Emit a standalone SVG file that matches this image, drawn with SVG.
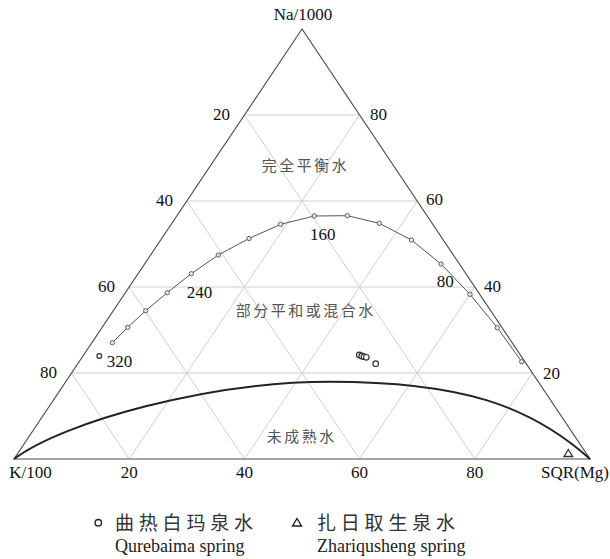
<svg xmlns="http://www.w3.org/2000/svg" width="610" height="559" viewBox="0 0 610 559">
<style>
.num{font-family:"Liberation Serif","Times New Roman",serif;font-size:17px;fill:#111}
.zone{font-family:"Noto Sans CJK SC","Noto Sans",sans-serif;font-size:15px;fill:#555;letter-spacing:2.5px}
.leg{font-family:"Noto Sans CJK SC","Noto Sans",sans-serif;font-size:19px;fill:#333;letter-spacing:4.8px}
.legen{font-family:"Liberation Serif","Times New Roman",serif;font-size:18px;fill:#222}
.grid{fill:none;stroke:#c9c9c9;stroke-width:0.9}
.frame{fill:none;stroke:#4a4a4a;stroke-width:1.1}
.pt{fill:#e4e4e4;stroke:#555;stroke-width:0.9}
.smp{fill:#fff;stroke:#333;stroke-width:1.2}
</style>
<rect width="610" height="559" fill="#fff"/>
<g id="grid">
<path class="grid" d="M71.6,373H532.4M129.2,287H474.8M186.8,201H417.2M244.4,115H359.6M129.2,459L359.6,115M244.4,459L417.2,201M359.6,459L474.8,287M474.8,459L532.4,373M129.2,459L71.6,373M244.4,459L129.2,287M359.6,459L186.8,201M474.8,459L244.4,115"/>
</g>
<g id="frame">
<path class="frame" d="M302,29L14,459L590,459Z"/>
</g>
<g id="axis-labels">
<text class="num" x="303" y="20" text-anchor="middle">Na/1000</text>
<text class="num" x="230" y="120" text-anchor="end">20</text>
<text class="num" x="173" y="206" text-anchor="end">40</text>
<text class="num" x="115" y="292" text-anchor="end">60</text>
<text class="num" x="57" y="378" text-anchor="end">80</text>
<text class="num" x="370" y="120">80</text>
<text class="num" x="426" y="205">60</text>
<text class="num" x="484" y="292">40</text>
<text class="num" x="543" y="379">20</text>
<text class="num" x="30.5" y="478" text-anchor="middle">K/100</text>
<text class="num" x="129.2" y="478" text-anchor="middle">20</text>
<text class="num" x="244.4" y="478" text-anchor="middle">40</text>
<text class="num" x="359.6" y="478" text-anchor="middle">60</text>
<text class="num" x="474.8" y="478" text-anchor="middle">80</text>
<text class="num" x="609" y="478" text-anchor="end">SQR(Mg)</text>
</g>
<g id="zones">
<text class="zone" x="261.7" y="171">完全平衡水</text>
<text class="zone" x="235.8" y="316">部分平和或混合水</text>
<text class="zone" x="266.7" y="441.5">未成熟水</text>
</g>
<g id="connectors">
<path id="immature-line" d="M14,459C64,421.5 210,381.7 330,381.7C460,381.7 530,405 590,459" fill="none" stroke="#222" stroke-width="2"/>
<polyline id="equilibrium-line" points="112.3,342.7 127.7,327.3 145.7,310.7 167.3,292.7 191.3,273.7 218.3,255 249,238.5 280.7,224.3 314.3,216 347.3,215.7 379.3,223.3 411.5,240 441,264 470,294.3 497.3,327.7 521.7,361.7" fill="none" stroke="#555" stroke-width="1"/>
</g>
<g id="equilibrium-points">
<circle class="pt" cx="112.3" cy="342.7" r="2.2"/>
<circle class="pt" cx="127.7" cy="327.3" r="2.2"/>
<circle class="pt" cx="145.7" cy="310.7" r="2.2"/>
<circle class="pt" cx="167.3" cy="292.7" r="2.2"/>
<circle class="pt" cx="191.3" cy="273.7" r="2.2"/>
<circle class="pt" cx="218.3" cy="255" r="2.2"/>
<circle class="pt" cx="249" cy="238.5" r="2.2"/>
<circle class="pt" cx="280.7" cy="224.3" r="2.2"/>
<circle class="pt" cx="314.3" cy="216" r="2.2"/>
<circle class="pt" cx="347.3" cy="215.7" r="2.2"/>
<circle class="pt" cx="379.3" cy="223.3" r="2.2"/>
<circle class="pt" cx="411.5" cy="240" r="2.2"/>
<circle class="pt" cx="441" cy="264" r="2.2"/>
<circle class="pt" cx="470" cy="294.3" r="2.2"/>
<circle class="pt" cx="497.3" cy="327.7" r="2.2"/>
<circle class="pt" cx="521.7" cy="361.7" r="2.2"/>
</g>
<g id="temp-labels">
<text class="num" x="310" y="240">160</text>
<text class="num" x="186.7" y="298">240</text>
<text class="num" x="106.7" y="367">320</text>
<text class="num" x="436.7" y="287">80</text>
</g>
<g id="qurebaima-samples">
<circle class="smp" cx="99.3" cy="356" r="2.4"/>
<circle class="smp" cx="359.3" cy="355" r="2.8"/>
<circle class="smp" cx="361.7" cy="356" r="2.8"/>
<circle class="smp" cx="364" cy="356.7" r="2.8"/>
<circle class="smp" cx="366.3" cy="357.3" r="2.8"/>
<circle class="smp" cx="375.7" cy="363.7" r="2.8"/>
</g>
<g id="zhariqusheng-samples">
<path d="M568.3,449.5L564,456.5L572.6,456.5Z" fill="#fff" stroke="#333" stroke-width="1.3"/>
</g>
<g id="legend">
<circle cx="98.3" cy="522.7" r="3.2" fill="#fff" stroke="#222" stroke-width="1.4"/>
<text class="leg" x="115" y="530">曲热白玛泉水</text>
<text class="legen" x="115" y="551.5">Qurebaima spring</text>
<path d="M297,518.5L292.5,526L301.5,526Z" fill="#fff" stroke="#222" stroke-width="1.4"/>
<text class="leg" x="317" y="530">扎日取生泉水</text>
<text class="legen" x="317" y="551.5">Zhariqusheng spring</text>
</g>
</svg>
